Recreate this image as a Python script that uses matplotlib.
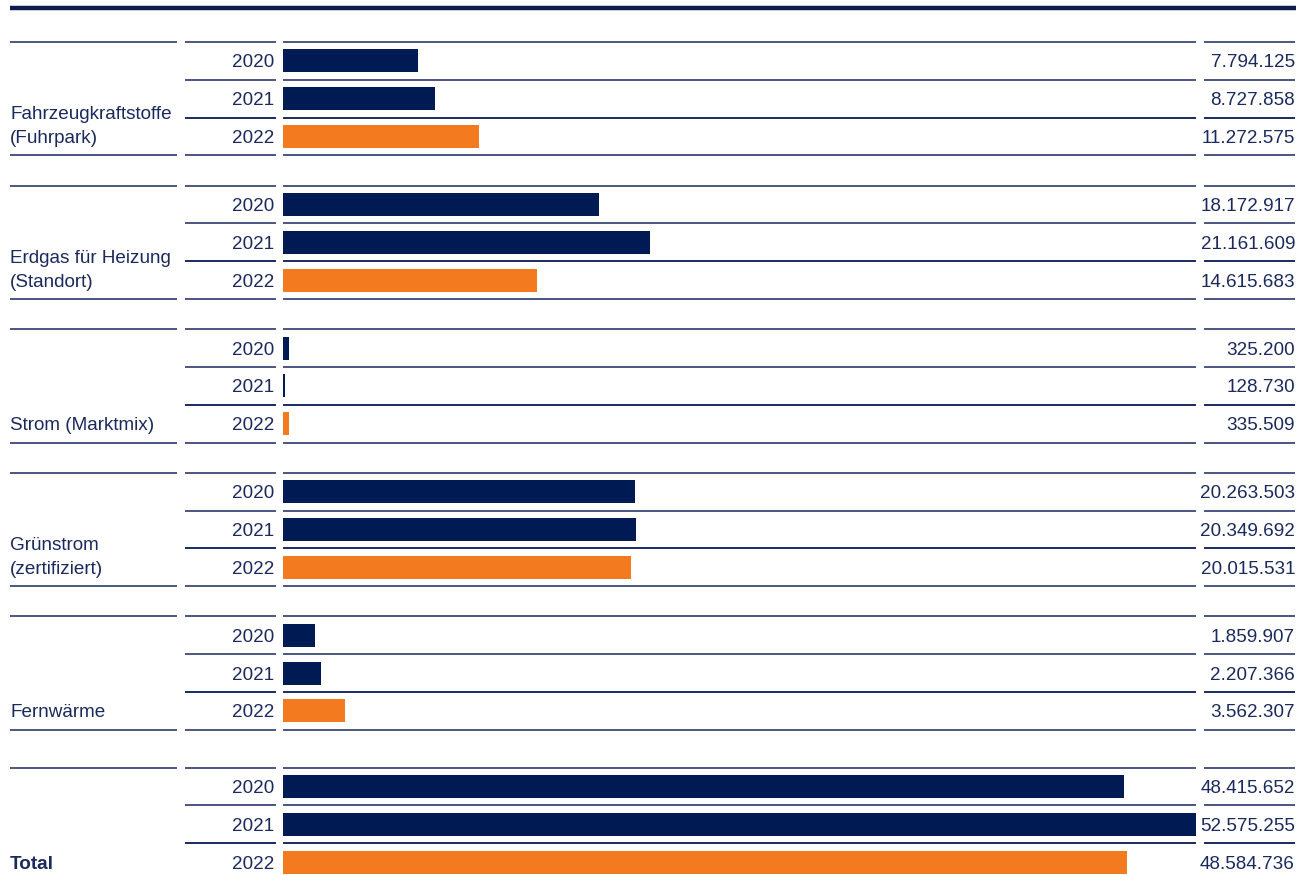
import matplotlib.pyplot as plt
from matplotlib.transforms import blended_transform_factory

plt.rcParams['font.family'] = ['Liberation Sans', 'DejaVu Sans']

# Daten
kategorien = [
    "Fahrzeugkraftstoffe\n(Fuhrpark)",
    "Erdgas für Heizung\n(Standort)",
    "Strom (Marktmix)",
    "Grünstrom\n(zertifiziert)",
    "Fernwärme",
    "Total",
]
jahre = ["2020", "2021", "2022"]
werte_2020 = [7794125, 18172917, 325200, 20263503, 1859907, 48415652]
werte_2021 = [8727858, 21161609, 128730, 20349692, 2207366, 52575255]
werte_2022 = [11272575, 14615683, 335509, 20015531, 3562307, 48584736]

NAVY = '#001a54'
ORANGE = '#f47a20'
TEXT = '#1b2a5c'
LINE = '#4a5680'
FS = 13.6

W, H = 1306, 875
fig = plt.figure(figsize=(W / 100, H / 100), dpi=100)

# Achse fuer die Balken (x in Werten, y in Pixeln)
bar_x0, bar_x1 = 283, 1196
ax = fig.add_axes([bar_x0 / W, 0, (bar_x1 - bar_x0) / W, 1])
max_wert = max(werte_2020 + werte_2021 + werte_2022)
ax.set_xlim(0, max_wert)
ax.set_ylim(H, 0)
ax.axis('off')

tr = blended_transform_factory(fig.transFigure, ax.transData)

def hline(y, x0, x1, color=LINE, lw=1.4):
    ax.plot([x0 / W, x1 / W], [y, y], color=color, lw=lw, transform=tr,
            clip_on=False, solid_capstyle='butt')

# dicke Linie oben
hline(8, 10, 1296, color='#0c1c4e', lw=3.2)

zeile = 37.8
gruppen_top = [42, 185.6, 329.2, 472.8, 616.4, 767.6]
farben = [NAVY, NAVY, ORANGE]

for g, kat in enumerate(kategorien):
    top = gruppen_top[g]
    werte = [werte_2020[g], werte_2021[g], werte_2022[g]]
    # Linien
    for r in range(4):
        y = top + r * zeile
        dunkel = '#1c2a60' if r == 2 else LINE
        hline(y, 185, 276, color=dunkel)
        hline(y, bar_x0, bar_x1, color=dunkel)
        hline(y, 1204, 1295, color=dunkel)
    hline(top, 10, 177)
    hline(top + 3 * zeile, 10, 177)

    for r in range(3):
        yc = top + (r + 0.5) * zeile
        ax.barh(yc, werte[r], height=23, left=0, color=farben[r])
        ax.text(274 / W, yc, jahre[r], transform=tr, ha='right',
                va='center_baseline', fontsize=FS, color=TEXT)
        ax.text(1295 / W, yc, f"{werte[r]:,}".replace(',', '.'), transform=tr,
                ha='right', va='center_baseline', fontsize=FS, color=TEXT)

    # Kategorie-Beschriftung (letzte Zeile auf Hoehe 2022)
    zeilen = kat.split('\n')
    y3 = top + 2.5 * zeile
    for k, txt in enumerate(reversed(zeilen)):
        ax.text(10 / W, y3 - k * 24, txt, transform=tr, ha='left',
                va='center_baseline', fontsize=FS, color=TEXT,
                fontweight='bold' if kat == 'Total' else 'normal')

fig.savefig('out.png', dpi=100)
